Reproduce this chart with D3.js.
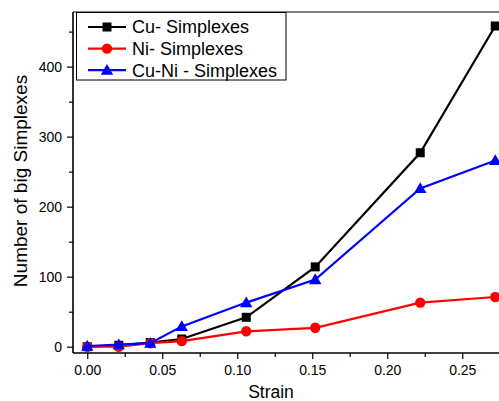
<!DOCTYPE html>
<html><head><meta charset="utf-8">
<script src="https://cdn.jsdelivr.net/npm/d3@7"></script>
<style>
html,body{margin:0;padding:0;background:#fff;overflow:hidden;}
text{font-family:"Liberation Sans",Arial,sans-serif;fill:#000;}
</style></head>
<body>
<svg id="chart" width="499" height="401"></svg>
<script>
const strain = [0.0, 0.021, 0.042, 0.063, 0.106, 0.152, 0.222, 0.272];
const cuValues = [0, 2, 6, 11, 42, 114, 277, 458];
const niValues = [0, 0, 5, 8, 22, 27, 63, 71];
const cuNiValues = [1, 3, 5, 29, 63, 96, 226, 266];
const seriesNames = ["Cu- Simplexes", "Ni- Simplexes", "Cu-Ni - Simplexes"];
const xTicks = [0, 0.05, 0.10, 0.15, 0.20, 0.25];
const xMinorTicks = [0.025, 0.075, 0.125, 0.175, 0.225, 0.275];
const yTicks = [0, 100, 200, 300, 400];
const yMinorTicks = [50, 150, 250, 350, 450];

const series = [
  {name: seriesNames[0], values: cuValues, color: "#000000", marker: "square"},
  {name: seriesNames[1], values: niValues, color: "#ff0000", marker: "circle"},
  {name: seriesNames[2], values: cuNiValues, color: "#0000ff", marker: "triangle"}
];

const svg = d3.select("#chart");
const pLeft = 73, pTop = 12, pBottom = 353;
const x = d3.scaleLinear().domain([-0.0095, 0.3]).range([pLeft, pLeft + 0.3095 * 1500]);
const y = d3.scaleLinear().domain([-9, 478]).range([pBottom, pTop]);

// top frame line
svg.append("line").attr("x1", pLeft).attr("x2", 499).attr("y1", pTop).attr("y2", pTop)
  .attr("stroke", "#000").attr("stroke-width", 1);

// x axis
const xAxis = svg.append("g").attr("transform", `translate(0,${pBottom})`);
xAxis.call(d3.axisBottom(x).tickValues(xTicks).tickFormat(d3.format(".2f")).tickSize(6).tickPadding(6));
xAxis.append("g").call(d3.axisBottom(x).tickValues(xMinorTicks).tickFormat("").tickSize(4))
  .select(".domain").remove();
xAxis.selectAll(".domain").attr("stroke-width", 1.6).attr("d", `M${pLeft},0H499`);
xAxis.selectAll(".tick line").attr("stroke-width", 1.2);
xAxis.selectAll("text").style("font-size", "14px").attr("fill", "#000").attr("dy", "0.71em");

// y axis
const yAxis = svg.append("g").attr("transform", `translate(${pLeft},0)`);
yAxis.call(d3.axisLeft(y).tickValues(yTicks).tickSize(6).tickPadding(5));
yAxis.append("g").call(d3.axisLeft(y).tickValues(yMinorTicks).tickFormat("").tickSize(4))
  .select(".domain").remove();
yAxis.selectAll(".domain").attr("stroke-width", 1.6).attr("d", `M0,${pTop}V${pBottom}`);
yAxis.selectAll(".tick line").attr("stroke-width", 1.2);
yAxis.selectAll("text").style("font-size", "14px").attr("fill", "#000");

// axis titles
svg.append("text").attr("x", 271).attr("y", 398).attr("text-anchor", "middle")
  .style("font-size", "17.5px").text("Strain");
svg.append("text").attr("transform", "translate(27,181) rotate(-90)").attr("text-anchor", "middle")
  .style("font-size", "19px").text("Number of big Simplexes");

function drawMarker(g, type, cx, cy, color) {
  if (type === "square") {
    g.append("rect").attr("x", cx - 4.5).attr("y", cy - 4.5).attr("width", 9).attr("height", 9).attr("fill", color);
  } else if (type === "circle") {
    g.append("circle").attr("cx", cx).attr("cy", cy).attr("r", 5.2).attr("fill", color);
  } else {
    const s = 6.2;
    g.append("path").attr("d", `M${cx},${cy - s}L${cx + s},${cy + s * 0.75}L${cx - s},${cy + s * 0.75}Z`).attr("fill", color);
  }
}

const plot = svg.append("g");
const line = d3.line().x((d, i) => x(strain[i])).y(d => y(d));
series.forEach(s => {
  const g = plot.append("g");
  g.append("path").datum(s.values).attr("d", line).attr("fill", "none")
    .attr("stroke", s.color).attr("stroke-width", 2.2);
  s.values.forEach((v, i) => drawMarker(g, s.marker, x(strain[i]), y(v), s.color));
});

// legend
const legend = svg.append("g");
legend.append("rect").attr("x", 76.5).attr("y", 12.5).attr("width", 209.5).attr("height", 67.5)
  .attr("fill", "#fff").attr("stroke", "#000").attr("stroke-width", 1);
series.forEach((s, i) => {
  const cy = 27 + i * 21.6;
  legend.append("line").attr("x1", 88).attr("x2", 126).attr("y1", cy).attr("y2", cy)
    .attr("stroke", s.color).attr("stroke-width", 2.2);
  drawMarker(legend, s.marker, 107, cy, s.color);
  legend.append("text").attr("x", 132).attr("y", cy).attr("dy", "0.36em")
    .style("font-size", "18px").text(s.name);
});
</script>
</body></html>
